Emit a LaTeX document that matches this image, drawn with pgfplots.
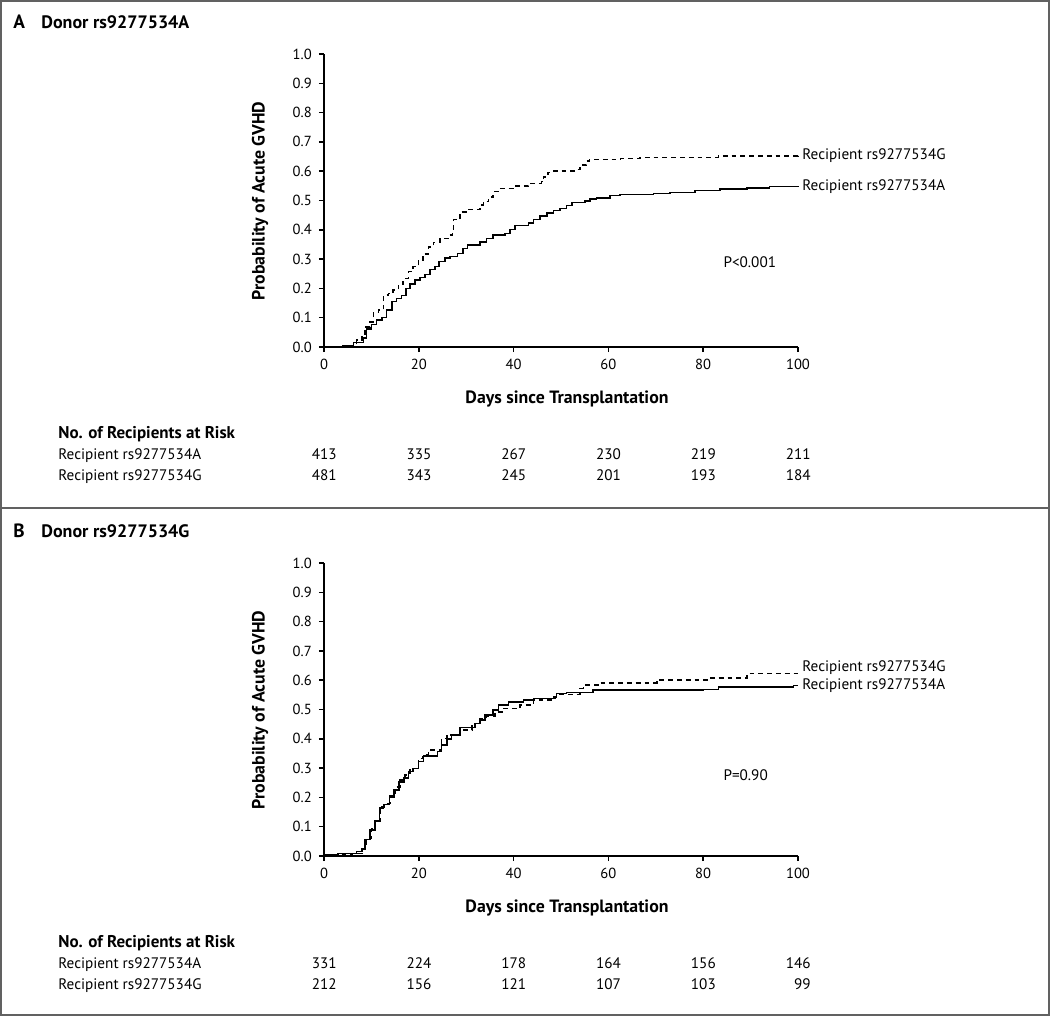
\documentclass[border=0pt]{standalone}
\usepackage{fontspec}
\setmainfont{PT Sans}
\usepackage{pgfplots}
\usepackage{pgfplotstable}
\pgfplotsset{compat=1.18}

\pgfplotstableread{
d p
0 0
4 0.003
6.2 0.016
8.3 0.030
9.0 0.061
10.0 0.077
11.1 0.092
12.2 0.101
13.2 0.126
14.3 0.155
15.3 0.166
16.4 0.175
17.3 0.200
18.1 0.215
19.2 0.228
20.3 0.237
21.3 0.248
22.4 0.265
23.4 0.274
24.3 0.291
25.5 0.303
26.6 0.308
28.2 0.319
29.3 0.336
30.3 0.348
32.9 0.359
34.3 0.370
35.7 0.382
38.2 0.388
39.2 0.401
40.3 0.414
43.1 0.424
44.2 0.435
45.6 0.447
47.0 0.458
48.4 0.465
49.8 0.473
51.2 0.483
52.3 0.493
55.1 0.499
56.1 0.505
57.5 0.509
60.3 0.517
62.4 0.520
69.5 0.524
73.0 0.528
78.3 0.534
83.5 0.539
89.2 0.543
94.0 0.547
100 0.548
}\AsolidA

\pgfplotstableread{
d p
0 0
5 0.003
6.9 0.024
8.0 0.035
8.6 0.069
9.7 0.085
10.4 0.117
11.5 0.126
12.5 0.177
13.6 0.183
14.6 0.194
15.7 0.214
16.7 0.234
17.8 0.257
18.8 0.274
19.9 0.295
20.9 0.317
22.0 0.342
23.1 0.357
24.5 0.371
26.2 0.382
27.1 0.402
27.3 0.435
28.7 0.461
30.1 0.469
32.9 0.484
33.6 0.496
34.7 0.512
35.7 0.530
37.1 0.541
39.9 0.549
43.1 0.558
45.9 0.564
46.3 0.581
47.3 0.596
48.4 0.601
53.3 0.606
54.0 0.621
55.4 0.635
56.0 0.640
62.5 0.643
66.7 0.647
83.2 0.651
100 0.652
}\AdashG

\pgfplotstableread{
d p
0 0.005
3 0.008
6.9 0.015
8.0 0.023
8.6 0.057
9.7 0.089
10.8 0.119
11.7 0.163
12.5 0.176
13.8 0.202
14.8 0.225
15.8 0.253
16.9 0.267
17.8 0.288
18.8 0.299
19.9 0.322
21.0 0.341
23.9 0.356
24.8 0.378
25.9 0.399
26.9 0.413
28.7 0.438
31.9 0.452
32.9 0.464
34.0 0.481
35.7 0.498
36.8 0.515
38.9 0.526
42.1 0.532
44.2 0.538
48.7 0.545
49.1 0.555
51.2 0.558
56.8 0.566
80.0 0.568
83.2 0.577
99 0.582
100 0.582
}\BsolidA

\pgfplotstableread{
d p
0 0.003
6.0 0.009
8.0 0.026
9.0 0.060
10.0 0.094
10.8 0.117
11.8 0.168
12.8 0.180
13.9 0.205
15.0 0.236
16.0 0.259
17.1 0.276
18.1 0.299
19.9 0.333
20.9 0.347
22.0 0.361
24.8 0.401
25.9 0.413
28.7 0.430
31.2 0.452
32.9 0.469
34.3 0.477
36.1 0.492
37.5 0.503
41.3 0.515
44.2 0.532
48.4 0.543
49.1 0.552
54.0 0.572
54.7 0.583
58.2 0.591
70.2 0.600
81.1 0.608
89.2 0.623
100 0.623
}\BdashG

\pgfplotsset{kmaxis/.style={
  scale only axis, width=237pt, height=146.5pt,
  xmin=0, xmax=100, ymin=0, ymax=1,
  axis lines=left, axis line style={-, line width=0.75pt, black},
  xtick={0,20,40,60,80,100},
  ytick={0,0.1,0.2,0.3,0.4,0.5,0.6,0.7,0.8,0.9,1},
  tick align=outside, major tick length=2.6pt,
  tick style={black, line width=0.75pt},
  yticklabel style={/pgf/number format/fixed, /pgf/number format/fixed zerofill, /pgf/number format/precision=1},
  ticklabel style={font=\fontsize{7.3}{8.5}\selectfont},
  /pgf/number format/assume math mode=true,
  clip=false, anchor=south west,
}}

\newcommand{\lab}{\fontsize{7.6}{9}\selectfont}
\newcommand{\hdr}{\fontsize{8.9}{11}\selectfont\bfseries}
\newcommand{\rsk}{\fontsize{8.5}{10}\selectfont\bfseries}

\begin{document}
\begin{tikzpicture}
\path[use as bounding box] (0,0) rectangle (525pt,508pt);

% Panel A
\begin{axis}[kmaxis, at={(162pt,334.5pt)}]
\addplot[const plot, black, line width=0.75pt] table[x=d,y=p] {\AsolidA};
\addplot[const plot, black, line width=0.75pt, dash pattern=on 2.4pt off 2pt] table[x=d,y=p] {\AdashG};
\node[anchor=west, font=\lab, inner sep=0pt, xshift=2pt] at (axis cs:100,0.652) {Recipient rs9277534G};
\node[anchor=west, font=\lab, inner sep=0pt, xshift=2pt] at (axis cs:100,0.548) {Recipient rs9277534A};
\node[anchor=west, font=\lab, inner sep=0pt] at (axis cs:84.2,0.290) {P<0.001};
\end{axis}

% Panel B
\begin{axis}[kmaxis, at={(162pt,80pt)}]
\addplot[const plot, black, line width=0.75pt] table[x=d,y=p] {\BsolidA};
\addplot[const plot, black, line width=0.75pt, dash pattern=on 2.4pt off 2pt] table[x=d,y=p] {\BdashG};
\node[anchor=west, font=\lab, inner sep=0pt, xshift=2pt] at (axis cs:100,0.642) {Recipient rs9277534G};
\node[anchor=west, font=\lab, inner sep=0pt, xshift=2pt] at (axis cs:100,0.582) {Recipient rs9277534A};
\node[anchor=west, font=\lab, inner sep=0pt] at (axis cs:84.2,0.276) {P=0.90};
\end{axis}

\begin{scope}[x=0.5pt,y=0.5pt]
\draw[line width=1.2pt, black!62] (1,1) rectangle (1049,1015);
\draw[line width=1.2pt, black!62] (0,508) -- (1050,508);

\foreach \off/\L/\D/\ra/\rb in {0/A/rs9277534A/{413,335,267,230,219,211}/{481,343,245,201,193,184},
                                509/B/rs9277534G/{331,224,178,164,156,146}/{212,156,121,107,103,99}} {
  \node[anchor=base west, inner sep=0pt, font=\fontsize{9.6}{11}\selectfont\bfseries] at (13,987-\off) {\L};
  \node[anchor=base west, inner sep=0pt, font=\fontsize{9}{11}\selectfont\bfseries] at (41,987-\off) {Donor \D};
  \node[font=\hdr, inner sep=0pt] at (567,617-\off) {Days since Transplantation};
  \node[font=\hdr, inner sep=0pt, rotate=90] at (260,815-\off) {Probability of Acute GVHD};
  \node[anchor=base west, inner sep=0pt, font=\rsk] at (58,577-\off) {No. of Recipients at Risk};
  \node[anchor=base west, inner sep=0pt, font=\lab] at (58,556-\off) {Recipient rs9277534A};
  \node[anchor=base west, inner sep=0pt, font=\lab] at (58,535-\off) {Recipient rs9277534G};
  \foreach \v [count=\i from 0] in \ra {
    \node[anchor=base east, inner sep=0pt, font=\lab] at (337+94.8*\i,556-\off) {\v};
  }
  \foreach \v [count=\i from 0] in \rb {
    \node[anchor=base east, inner sep=0pt, font=\lab] at (337+94.8*\i,535-\off) {\v};
  }
}
\end{scope}
\end{tikzpicture}
\end{document}
